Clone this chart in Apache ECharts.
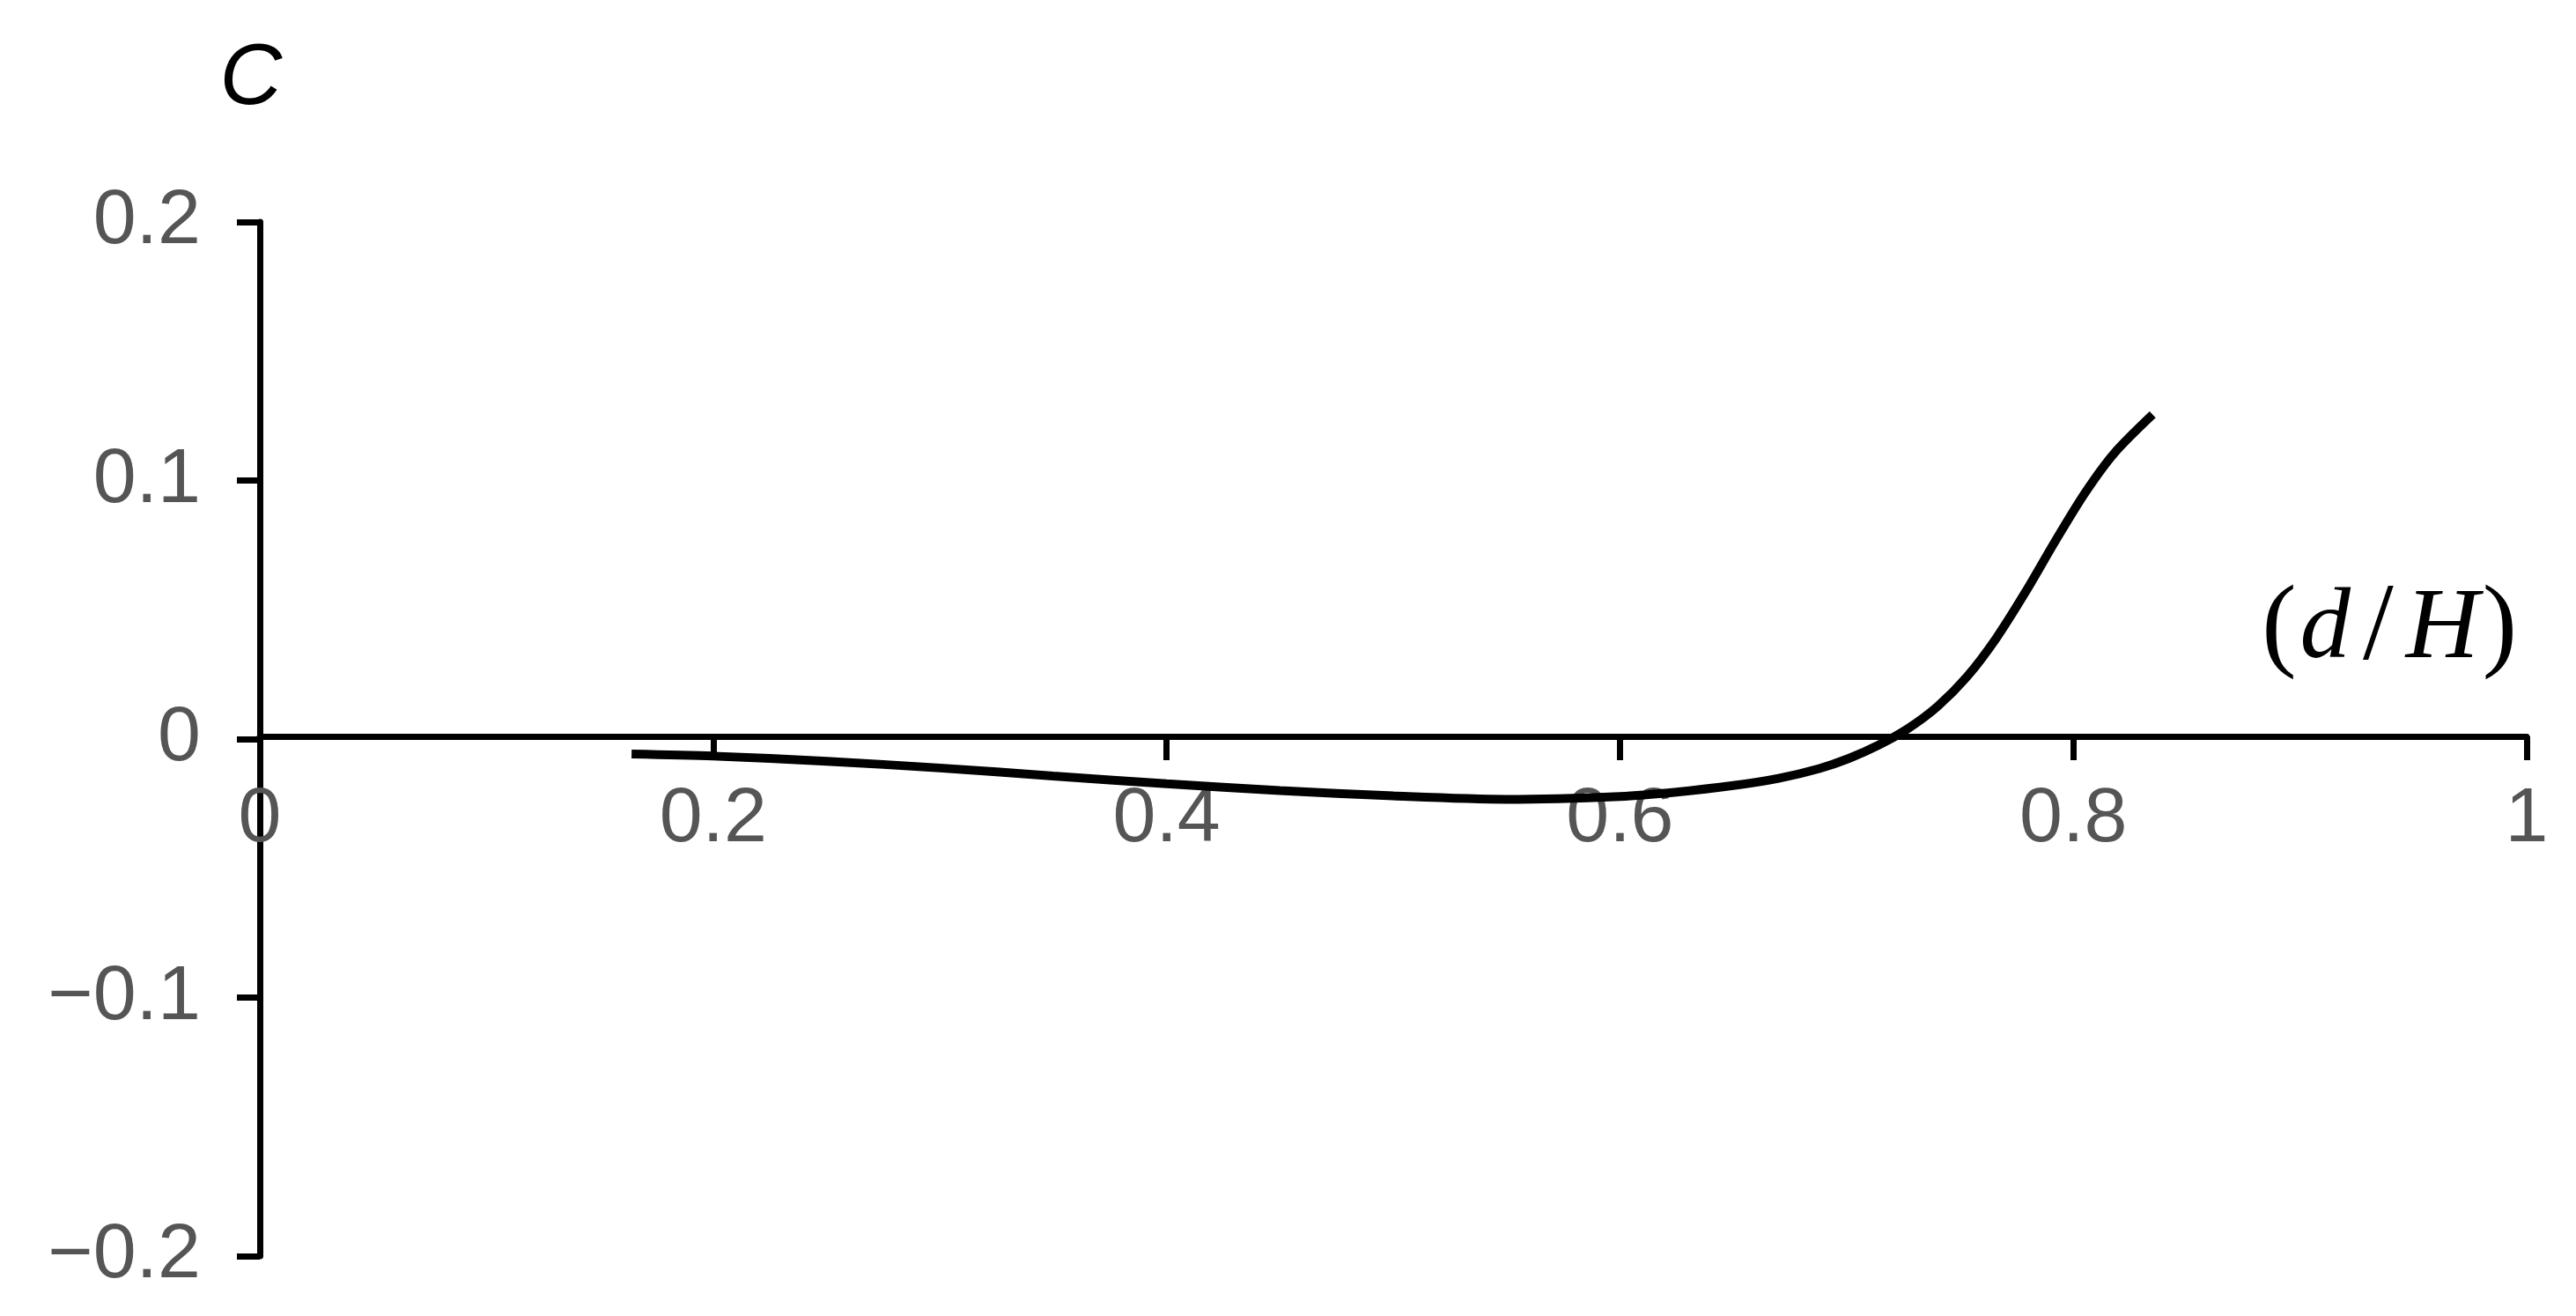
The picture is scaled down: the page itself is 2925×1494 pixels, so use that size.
<!DOCTYPE html>
<html>
<head>
<meta charset="utf-8">
<style>
  html, body { margin: 0; padding: 0; background: #fff; }
  #main { width: 2925px; height: 1494px; }
</style>
<script src="https://cdn.jsdelivr.net/npm/echarts@6/dist/echarts.min.js"></script>
</head>
<body>
<div id="main"></div>
<script>
// d/H along the curve
var dH = [0.164, 0.2, 0.25, 0.3, 0.35, 0.4, 0.45, 0.5, 0.55, 0.6, 0.625, 0.65, 0.67, 0.688, 0.701, 0.714, 0.727, 0.74, 0.753, 0.766, 0.779, 0.792, 0.805, 0.818, 0.835];
// C at each d/H
var cValues = [-0.0058, -0.0066, -0.0086, -0.0112, -0.0143, -0.0173, -0.0199, -0.0220, -0.0233, -0.0222, -0.0205, -0.0180, -0.0152, -0.0114, -0.0075, -0.0024, 0.0040, 0.0125, 0.0240, 0.0390, 0.0570, 0.0765, 0.0950, 0.1105, 0.1255];
var xTicks = [0, 0.2, 0.4, 0.6, 0.8, 1];
var yTicks = [-0.2, -0.1, 0, 0.1, 0.2];

var points = [];
for (var i = 0; i < dH.length; i++) {
    points.push([dH[i], cValues[i]]);
}

function fmt(v) {
    // real minus sign like the original
    return String(Math.round(v * 10) / 10).replace('-', '\u2212');
}

var myChart = echarts.init(document.getElementById('main'));

var axisLine = { show: true, onZero: false, lineStyle: { color: '#000', width: 7 } };
var labelStyle = { fontFamily: 'Liberation Sans', fontSize: 88, color: '#555' };

var option = {
    animation: false,
    backgroundColor: '#fff',
    grid: { left: 295, right: 56, top: 252, bottom: 68, containLabel: false, outerBoundsMode: 'none' },
    xAxis: {
        type: 'value',
        min: xTicks[0],
        max: xTicks[xTicks.length - 1],
        interval: 0.2,
        // sit the axis on C = 0 (grid bottom is at -0.2)
        offset: -590,
        axisLine: axisLine,
        axisTick: { show: true, length: 27, lineStyle: { color: '#000', width: 7 } },
        splitLine: { show: false },
        axisLabel: Object.assign({ margin: 51, formatter: fmt }, labelStyle),
        name: '{p|(}{i|d}{s|/}{i|H}{p|)}',
        nameLocation: 'end',
        nameGap: -11,
        nameTextStyle: {
            align: 'right',
            verticalAlign: 'bottom',
            padding: [0, 0, 58, 0],
            rich: {
                p: { fontFamily: 'Liberation Serif', fontSize: 118, color: '#000' },
                i: { fontFamily: 'Liberation Serif', fontStyle: 'italic', fontSize: 115, color: '#000', padding: [0, 4, 0, 4] },
                s: { fontFamily: 'Liberation Serif', fontSize: 125, color: '#000', padding: [0, 10, 0, 10] }
            }
        }
    },
    yAxis: {
        type: 'value',
        min: yTicks[0],
        max: yTicks[yTicks.length - 1],
        interval: 0.1,
        axisLine: axisLine,
        axisTick: { show: true, length: 26, lineStyle: { color: '#000', width: 7 } },
        splitLine: { show: false },
        axisLabel: Object.assign({ margin: 67, formatter: fmt }, labelStyle),
        name: 'C',
        nameLocation: 'end',
        nameGap: 112,
        nameTextStyle: {
            fontFamily: 'Liberation Sans',
            fontStyle: 'italic',
            fontSize: 98,
            color: '#000',
            align: 'center',
            verticalAlign: 'bottom',
            padding: [0, 20, 0, 0]
        }
    },
    series: [
        {
            type: 'line',
            data: points,
            smooth: 0.3,
            showSymbol: false,
            lineStyle: { color: '#000', width: 10 }
        }
    ]
};
myChart.setOption(option);
</script>
</body>
</html>
